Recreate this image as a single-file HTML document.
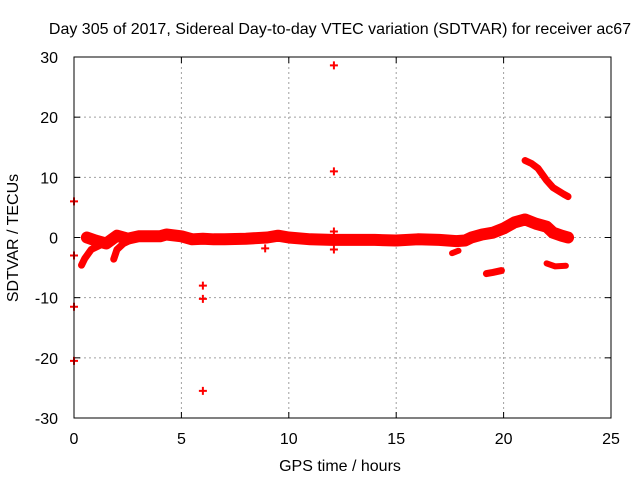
<!DOCTYPE html>
<html><head><meta charset="utf-8"><style>
body{margin:0;background:#fff;}
svg text{font-family:"Liberation Sans",sans-serif;font-size:16px;fill:#000;}
</style></head><body>
<svg id="c" width="640" height="480" xmlns="http://www.w3.org/2000/svg">
<text x="340" y="34" text-anchor="middle">Day 305 of 2017, Sidereal Day-to-day VTEC variation (SDTVAR) for receiver ac67</text>
<text x="340" y="471" text-anchor="middle">GPS time / hours</text>
<text x="0" y="0" transform="translate(18,238) rotate(-90)" text-anchor="middle">SDTVAR / TECUs</text>
<g id="grid"></g>
<g id="marks"></g>
<rect x="74" y="57" width="537" height="361" fill="none" stroke="#000" stroke-width="1"/>
</svg>
<script>
const xTicks=[0,5,10,15,20,25];
const yTicks=[-30,-20,-10,0,10,20,30];
const mainBand=[[0.6,0],[1,-0.5],[1.5,-1],[2,0.3],[2.5,-0.2],[3,0.2],[4,0.2],[4.3,0.5],[5,0.2],[5.5,-0.3],[6,-0.2],[6.5,-0.3],[7,-0.3],[8,-0.2],[9,0],[9.5,0.3],[10,0],[11,-0.3],[12,-0.4],[13,-0.4],[14,-0.4],[15,-0.5],[16,-0.3],[17,-0.4],[17.8,-0.6],[18.2,-0.5],[18.5,0],[19,0.5],[19.5,0.8],[20,1.5],[20.5,2.5],[21,3],[21.5,2.3],[22,1.8],[22.3,0.8],[22.7,0.3],[23,0]];
const branchA=[[0.35,-4.6],[0.5,-3.5],[0.8,-2],[1.2,-1.3]];
const branchB=[[1.85,-3.6],[2,-2],[2.3,-1],[2.6,-0.5]];
const branchC=[[17.6,-2.6],[17.9,-2.2]];
const branchD=[[19.2,-6],[19.5,-5.8],[19.9,-5.5]];
const branchE=[[22,-4.3],[22.4,-4.8],[22.9,-4.7]];
const upper=[[21,12.8],[21.3,12.3],[21.6,11.5],[22,9.5],[22.3,8.3],[22.8,7.2],[23,6.8]];
const outlierX=[0,0,0,0,6,6,6,12.1,12.1,12.1,12.1,8.9];
const outlierY=[6,-3,-11.5,-20.5,-8,-10.2,-25.5,28.6,11,1,-2,-1.8];
const X0=74,X1=611,Y0=418,Y1=57;
const sx=v=>X0+(v-0)/(25-0)*(X1-X0);
const sy=v=>Y0-(v+30)/60*(Y0-Y1);
const NS="http://www.w3.org/2000/svg";
const grid=document.getElementById('grid'),marks=document.getElementById('marks'),svg=document.getElementById('c');
function mk(t,a,p){const e=document.createElementNS(NS,t);for(const k in a)e.setAttribute(k,a[k]);(p||svg).appendChild(e);return e;}
xTicks.forEach(v=>{const x=sx(v);
 if(v>0&&v<25){const l=mk('line',{x1:x,x2:x,y1:Y1,y2:Y0,stroke:'#a0a0a0','stroke-dasharray':'2,3'},grid);
 
 }
 mk('line',{x1:x,x2:x,y1:Y0,y2:Y0-6,stroke:'#000'},grid);mk('line',{x1:x,x2:x,y1:Y1,y2:Y1+6,stroke:'#000'},grid);
 const t=mk('text',{x:x,y:444,'text-anchor':'middle'});t.textContent=v;
 
 });
yTicks.forEach(v=>{const y=sy(v);
 if(v>-30&&v<30){const l=mk('line',{x1:X0,x2:X1,y1:y,y2:y,stroke:'#a0a0a0','stroke-dasharray':'2,3'},grid);
 
 }
 mk('line',{x1:X0,x2:X0+6,y1:y,y2:y,stroke:'#000'},grid);mk('line',{x1:X1,x2:X1-6,y1:y,y2:y,stroke:'#000'},grid);
 const t=mk('text',{x:58,y:y+6,'text-anchor':'end'});t.textContent=v;
 
 });
function seg(arr,w,name){const p=mk('polyline',{points:arr.map(d=>sx(d[0])+','+sy(d[1])).join(' '),fill:'none',stroke:'#f00','stroke-width':w,'stroke-linejoin':'round','stroke-linecap':'round'},marks);
 
 }
seg(mainBand,12,'main-band');seg(branchA,7,'branch-early-1');seg(branchB,7,'branch-early-2');
seg(branchC,6,'branch-17h');seg(branchD,7,'branch-19h');seg(branchE,6,'branch-22h');seg(upper,7,'upper-branch');
outlierX.forEach((x,i)=>{const cx=sx(x),cy=sy(outlierY[i]);
 const p=mk('path',{d:`M${cx-4},${cy}h8M${cx},${cy-4}v8`,stroke:'#f00','stroke-width':2,fill:'none'},marks);
 
 });
</script>
</body></html>
